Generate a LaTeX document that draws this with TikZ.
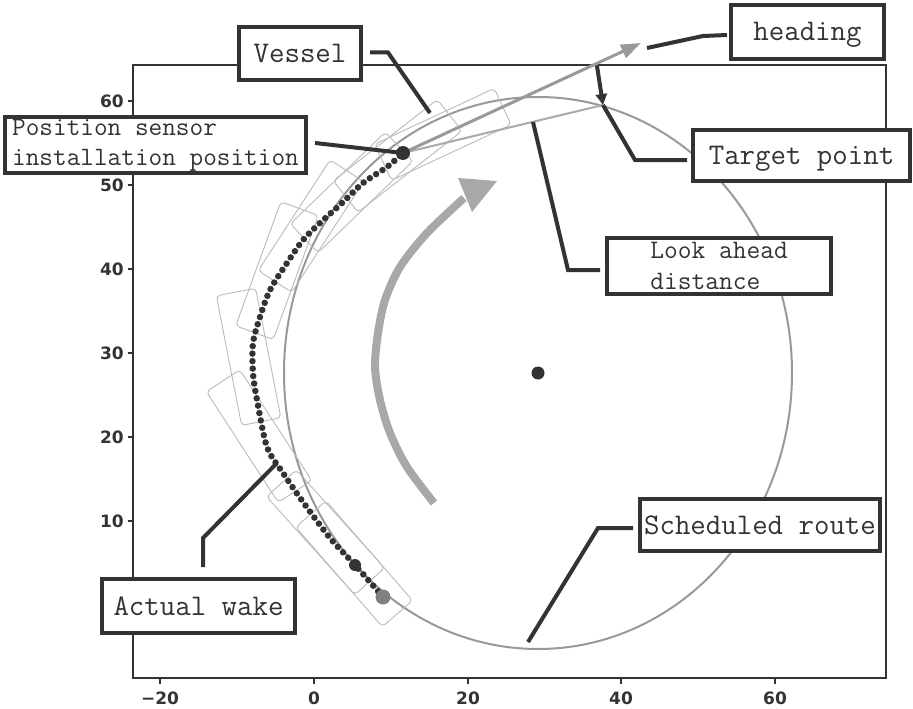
\documentclass[tikz,border=0pt]{standalone}
\usepackage{fontspec}
\newfontfamily\tickf{DejaVu Sans}
\usetikzlibrary{arrows.meta}
\definecolor{ink}{HTML}{333333}
\definecolor{route}{HTML}{999999}
\definecolor{lightg}{HTML}{AAAAAA}
\definecolor{hullc}{HTML}{BBBBBB}
\definecolor{arcg}{HTML}{A8A8A8}
\begin{document}
\begin{tikzpicture}[x=1pt,y=-1pt,
  box/.style={draw=ink, line width=4, fill=white, inner sep=0, text=ink,
              font=\ttfamily\fontsize{30}{35}\selectfont},
  oneline/.style={text height=18, text depth=0},
  leader/.style={draw=ink, line width=4},
  ticklab/.style={font=\tickf\bfseries\fontsize{17}{20}\selectfont, text=ink, inner sep=0},
  hull/.style={draw=hullc, line width=0.9, rounded corners=4},
]
\useasboundingbox (0,0) rectangle (913,709);
\fill[white] (0,0) rectangle (913,709);

% axes frame and ticks
\draw[ink, line width=2.5] (133,65) rectangle (886,678);
\foreach \xv/\t [count=\i] in {160/{−20}, 314/0, 468/20, 621/40, 775/60} {
  \draw[ink, line width=1.5] (\xv,678) -- (\xv,684);
  \node[ticklab] (xt\i) at (\xv,698) {\t};
}
\foreach \yv/\t [count=\i] in {521/10, 437/20, 353/30, 269/40, 185/50, 101/60} {
  \draw[ink, line width=1.5] (128,\yv) -- (133,\yv);
  \node[ticklab, anchor=east] (yt\i) at (124,\yv) {\t};
}

% scheduled route
\draw[route, line width=2] (538,373) ellipse [x radius=254, y radius=276];

% direction arc arrow
\draw[arcg, line width=8] plot[smooth] coordinates {(434,503) (407,467) (390,433) (380,400) (375,367) (378,333) (385,300) (400,267) (427,233) (464,198)};
\fill[arcg] (458,178) -- (497,181) -- (472,212) -- cycle;

% vessel outlines
\foreach \px/\py/\a in {383/597/131, 355/565/132, 283/473/123, 257/400/101, 262/312/70, 287/263/57, 320/223/44, 363/183/38, 403/153/25}
  \draw[hull, shift={(\px,\py)}, rotate=\a] (-22,-20) rectangle (110,20);

% actual wake dots
\draw[ink, line width=6.5, line cap=round, dash pattern=on 0pt off 7.5pt] plot[smooth] coordinates {(383,597) (355,565) (330,538) (303,502) (283,473) (267,447) (257,400) (253,373) (253,343) (260,317) (270,290) (287,263) (303,240) (320,223) (342,203) (363,183) (387,167) (403,153)};

% key points
\coordinate (sensor) at (403,153);
\coordinate (tp) at (603,105);
\coordinate (headtip) at (641,43);
\coordinate (arrtop) at (597,66);
\coordinate (vtip) at (430,113);
\coordinate (hlead) at (647,48);
\coordinate (lad) at (533,122);
\coordinate (rpt) at (528,642);
\coordinate (wpt) at (277,463);

% look-ahead and heading
\draw[lightg, line width=2] (sensor) -- (tp);
\draw[route, line width=3, -{Triangle[length=20,width=14]}] (sensor) -- (headtip);

\fill[gray] (383,597) circle (7.5);
\fill[ink] (355,565) circle (6);
\fill[ink] (sensor) circle (7);
\fill[ink] (538,373) circle (6.5);

% target arrow
\draw[ink, line width=4, -{Triangle[length=11,width=11]}] (arrtop) -- (tp);

% boxes
\node[box, oneline, minimum width=122, minimum height=53] (vessel) at (300,53.5) {Vessel};
\node[box, minimum width=301, minimum height=56, align=left, font=\ttfamily\fontsize{26.5}{30}\selectfont] (pos) at (155.5,145) {Position sensor\\installation position};
\node[box, oneline, minimum width=153, minimum height=54] (head) at (807.5,32) {heading};
\node[box, oneline, minimum width=217, minimum height=51] (tgt) at (801.5,155.5) {Target point};
\node[box, minimum width=224, minimum height=56, align=left, font=\ttfamily\fontsize{26.7}{31}\selectfont] (look) at (719,266) {Look ahead\\distance};
\node[box, oneline, minimum width=240, minimum height=52] (sched) at (760,525) {Scheduled route};
\node[box, oneline, minimum width=193, minimum height=54] (wake) at (198.5,606) {Actual wake};

% leaders
\draw[leader] (vessel.east) ++(7,-1) -- ++(18,0) -- (vtip);
\draw[leader, shorten >=3] (pos.east) ++(7,-2) -- (sensor);
\draw[leader] (head.west) ++(-2,3) -- ++(-24,1) -- (hlead);
\draw[leader] (tgt.west) ++(-4,4.5) -- ++(-52,0) -- (tp);
\draw[leader] (look.west) ++(-5,4) -- ++(-32,0) -- (lad);
\draw[leader] (sched.west) ++(-5,3) -- ++(-35,0) -- (rpt);
\draw[leader] (wake.north) ++(4.5,-10) -- ++(0,-29) -- (wpt);
\end{tikzpicture}
\end{document}
